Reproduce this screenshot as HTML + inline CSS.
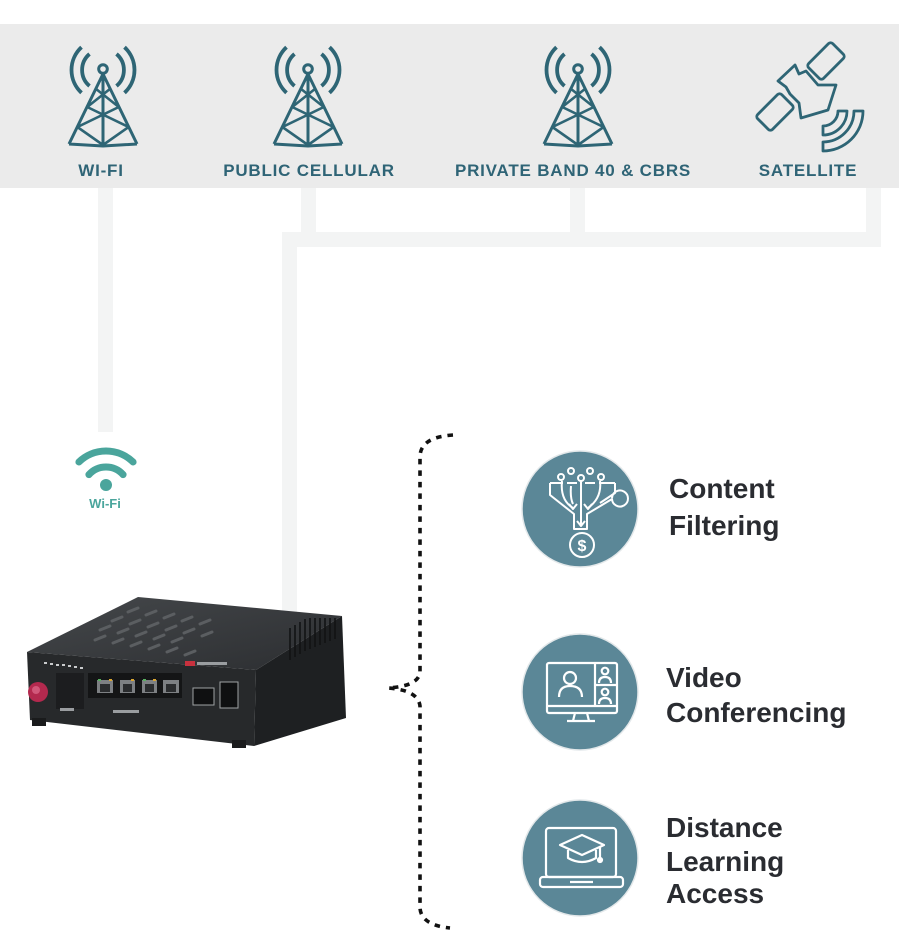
<!DOCTYPE html>
<html>
<head>
<meta charset="utf-8">
<style>
  html,body{margin:0;padding:0;background:#fff;}
  body{width:922px;height:948px;overflow:hidden;position:relative;}
  svg{position:absolute;left:0;top:0;}
  .lbl{font-family:"Liberation Sans",sans-serif;font-weight:bold;font-size:17px;fill:#2f6476;letter-spacing:0.8px;}
  .big{font-family:"Liberation Sans",sans-serif;font-weight:bold;font-size:28px;fill:#2a2c31;}
</style>
</head>
<body>
<svg width="922" height="948" viewBox="0 0 922 948" xmlns="http://www.w3.org/2000/svg">
  <defs>
    <g id="tower" fill="none" stroke="#2e6575" stroke-width="3">
      <circle cx="0" cy="0" r="4.3" stroke-width="3"/>
      <path d="M-21.5 -21.8 A31 31 0 0 0 -21.5 23.8" stroke-width="3.8"/>
      <path d="M21.5 -21.8 A31 31 0 0 1 21.5 23.8" stroke-width="3.8"/>
      <path d="M-13.5 -15 A21 21 0 0 0 -13.5 17" stroke-width="3.8"/>
      <path d="M13.5 -15 A21 21 0 0 1 13.5 17" stroke-width="3.8"/>
      <path d="M0 5 L-34 75 M0 5 L34 75 M0 5 L0 77 M-34 75 L0 77 L34 75"/>
      <path d="M-6.9 20 L15.8 38 M6.9 20 L-15.8 38 M-15.8 38 L25.6 58 M15.8 38 L-25.6 58 M-25.6 58 L0 76 M25.6 58 L0 76" stroke-width="2.6"/>
    </g>
  </defs>

  <!-- gray band -->
  <rect x="0" y="24" width="899" height="164" fill="#ebebeb"/>

  <!-- connectors -->
  <g fill="#f3f4f4">
    <rect x="98" y="188" width="15" height="244"/>
    <rect x="301" y="188" width="15" height="46"/>
    <rect x="570" y="188" width="15" height="46"/>
    <rect x="866" y="188" width="15" height="59"/>
    <rect x="282" y="232" width="599" height="15"/>
    <rect x="282" y="232" width="15" height="380"/>
  </g>

  <!-- towers -->
  <use href="#tower" x="103" y="69"/>
  <use href="#tower" x="308" y="69"/>
  <use href="#tower" x="578" y="69"/>

  <!-- satellite -->
  <g fill="none" stroke="#2e6575" stroke-width="2.8" stroke-linejoin="round">
    <rect x="-17" y="-10.5" width="34" height="21" rx="3" transform="translate(826,61) rotate(-45)"/>
    <rect x="-17" y="-10.5" width="34" height="21" rx="3" transform="translate(775,112) rotate(-45)"/>
    <path d="M778 81 L795 65 L799 74 L806 71 L818 85 L836 85 L828 110 L801 118 L799 103 L790 94 L786 87 Z"/>
    <path d="M847 111 A24 24 0 0 1 823 135 L823 126 A15 15 0 0 0 838 111 Z"/>
    <path d="M863 111 A40 40 0 0 1 823 151 L823 142 A31 31 0 0 0 854 111 Z"/>
  </g>

  <!-- band labels -->
  <text class="lbl" x="101" y="176" text-anchor="middle">WI-FI</text>
  <text class="lbl" x="309" y="176" text-anchor="middle">PUBLIC CELLULAR</text>
  <text class="lbl" x="573" y="176" text-anchor="middle">PRIVATE BAND 40 &amp; CBRS</text>
  <text class="lbl" x="808" y="176" text-anchor="middle">SATELLITE</text>

  <!-- wifi icon -->
  <g fill="none" stroke="#4aa59c" stroke-width="7" stroke-linecap="round">
    <path d="M78.9 462 A39 39 0 0 1 133.1 462"/>
    <path d="M88.9 474.6 A23 23 0 0 1 123.1 474.6"/>
  </g>
  <circle cx="106" cy="485" r="6" fill="#4aa59c"/>
  <text x="105" y="508" text-anchor="middle" font-family="Liberation Sans, sans-serif" font-weight="bold" font-size="13" fill="#4aa59c">Wi-Fi</text>

  <!-- router -->
  <defs>
    <linearGradient id="topg" x1="0" y1="0" x2="1" y2="1">
      <stop offset="0" stop-color="#45484b"/>
      <stop offset="1" stop-color="#2c2e31"/>
    </linearGradient>
  </defs>
  <polygon points="27,652 138,597 342,616 256,670" fill="url(#topg)"/>
  <polygon points="27,652 256,670 254,746 30,720" fill="#27292b"/>
  <polygon points="256,670 342,616 346,718 254,746" fill="#1e2022"/>
  <!-- top grid ridges -->
  <g stroke="#5b5e61" stroke-width="3" stroke-linecap="round">
    <path d="M100 630 L110 626 M118 633 L128 629 M136 636 L146 632 M154 639 L164 635 M172 642 L182 638"/>
    <path d="M95 640 L105 636 M113 643 L123 639 M131 646 L141 642 M149 649 L159 645 M167 652 L177 648 M185 655 L195 651"/>
    <path d="M112 621 L122 617 M130 624 L140 620 M148 627 L158 623 M166 630 L176 626 M184 633 L194 629 M202 636 L212 632"/>
    <path d="M128 612 L138 608 M146 615 L156 611 M164 618 L174 614 M182 621 L192 617 M200 624 L210 620"/>
  </g>
  <g stroke="#121314" stroke-width="1.6">
    <path d="M290 628 L290 660 M295 625 L295 657 M300 622 L300 654 M305 619 L305 651 M310 618 L310 649 M315 618 L315 647 M320 618 L320 645 M325 618 L325 643 M330 618 L330 641 M335 618 L335 639"/>
  </g>
  <!-- LEDs -->
  <g fill="#c9cbcc">
    <rect x="44" y="662" width="3" height="2"/><rect x="50" y="663" width="3" height="2"/><rect x="56" y="664" width="3" height="2"/>
    <rect x="62" y="664" width="3" height="2"/><rect x="68" y="665" width="3" height="2"/><rect x="74" y="666" width="3" height="2"/><rect x="80" y="667" width="3" height="2"/>
  </g>
  <!-- port panel -->
  <rect x="56" y="673" width="28" height="36" fill="#1c1d1f"/>
  <rect x="88" y="673" width="94" height="25" fill="#141516"/>
  <g fill="#7d8083">
    <rect x="97" y="680" width="16" height="13"/>
    <rect x="120" y="680" width="15" height="13"/>
    <rect x="142" y="680" width="15" height="13"/>
    <rect x="163" y="680" width="16" height="13"/>
  </g>
  <g fill="#2a2c2e">
    <rect x="100" y="684" width="10" height="8"/>
    <rect x="123" y="684" width="9" height="8"/>
    <rect x="145" y="684" width="9" height="8"/>
    <rect x="166" y="684" width="10" height="8"/>
  </g>
  <g fill="#d9a531"><rect x="109" y="679" width="3" height="2"/><rect x="131" y="679" width="3" height="2"/><rect x="153" y="679" width="3" height="2"/></g>
  <g fill="#58b060"><rect x="98" y="679" width="3" height="2"/><rect x="143" y="679" width="3" height="2"/></g>
  <rect x="193" y="688" width="21" height="17" fill="#0f1011" stroke="#9fa2a4" stroke-width="1"/>
  <rect x="220" y="682" width="18" height="26" fill="#0f1011" stroke="#9fa2a4" stroke-width="1"/>
  <rect x="185" y="661" width="10" height="5" fill="#c8313e"/>
  <g fill="#9a9da0">
    <rect x="197" y="662" width="30" height="3"/>
    <rect x="113" y="710" width="26" height="3"/>
    <rect x="60" y="708" width="14" height="3"/>
  </g>
  <circle cx="38" cy="692" r="10" fill="#b3294e"/>
  <circle cx="36" cy="690" r="4" fill="#d1587a"/>
  <rect x="32" y="718" width="14" height="8" fill="#1a1b1c"/>
  <rect x="232" y="740" width="14" height="8" fill="#1a1b1c"/>

  <!-- brace -->
  <path d="M453 435 Q421 437 420 456 L420 672 Q419 686 388 688 Q418 690 420 706 L420 908 Q421 925 450 928" fill="none" stroke="#111" stroke-width="3.6" stroke-dasharray="5.5 6"/>

  <!-- circles -->
  <g fill="#5b8797" stroke="#e3e8ea" stroke-width="1.5">
    <circle cx="580" cy="509" r="58"/>
    <circle cx="580" cy="692" r="58"/>
    <circle cx="580" cy="858" r="58"/>
  </g>

  <!-- content filtering icon -->
  <g fill="none" stroke="#fff" stroke-width="2" stroke-linejoin="round">
    <circle cx="561" cy="477" r="3"/>
    <circle cx="571" cy="471" r="3"/>
    <circle cx="581" cy="478" r="3"/>
    <circle cx="590" cy="471" r="3"/>
    <circle cx="601" cy="477" r="3"/>
    <path d="M550 483 L563 483 M567 483 L577 483 M585 483 L595 483 M599 483 L615 483"/>
    <path d="M550 483 L550 495 L574 514 L574 529 L587 529 L587 514 L612 499 A8 8 0 1 0 612 498 M615 483 L615 493 L600 503"/>
    <path d="M562 481 Q560 500 573 508 M581 481 L581 525 M600 481 Q602 498 588 508 M571 486 Q570 498 573 504"/>
    <path d="M569 504 L573 509 L577 504 M577 521 L581 526 L585 521 M584 504 L588 509 L592 504"/>
    <circle cx="582" cy="545" r="12"/>
  </g>
  <text x="582" y="551" text-anchor="middle" font-family="Liberation Sans, sans-serif" font-weight="bold" font-size="16" fill="#fff">$</text>

  <!-- video icon -->
  <g fill="none" stroke="#fff" stroke-width="2.2" stroke-linejoin="round">
    <rect x="547" y="663" width="70" height="50" rx="2"/>
    <path d="M547 706 L617 706 M595 663 L595 706 M595 685 L617 685"/>
    <path d="M575 713 L573 721 M587 713 L589 721 M567 721 L595 721"/>
    <circle cx="570" cy="678" r="6"/>
    <path d="M559 697 Q559 686 570 686 Q582 686 582 697"/>
    <circle cx="605" cy="671" r="3.3"/>
    <path d="M599 683 Q599 677 605 677 Q611 677 611 683"/>
    <circle cx="605" cy="692" r="3.3"/>
    <path d="M599 704 Q599 698 605 698 Q611 698 611 704"/>
  </g>

  <!-- laptop icon -->
  <g fill="none" stroke="#fff" stroke-width="2.2" stroke-linejoin="round">
    <rect x="546" y="828" width="70" height="49" rx="3"/>
    <rect x="540" y="877" width="83" height="10" rx="3"/>
    <path d="M570 882 L593 882"/>
    <path d="M582 835 L604 845 L582 855 L560 845 Z"/>
    <path d="M568 850 L568 858 Q582 866 596 858 L596 850"/>
    <path d="M600 847 L600 858"/>
    <circle cx="600" cy="860" r="2" fill="#fff"/>
  </g>

  <!-- text -->
  <text class="big" x="669" y="498">Content</text>
  <text class="big" x="669" y="535">Filtering</text>
  <text class="big" x="666" y="687">Video</text>
  <text class="big" x="666" y="722">Conferencing</text>
  <text class="big" x="666" y="837">Distance</text>
  <text class="big" x="666" y="871">Learning</text>
  <text class="big" x="666" y="903">Access</text>
</svg>
</body>
</html>
